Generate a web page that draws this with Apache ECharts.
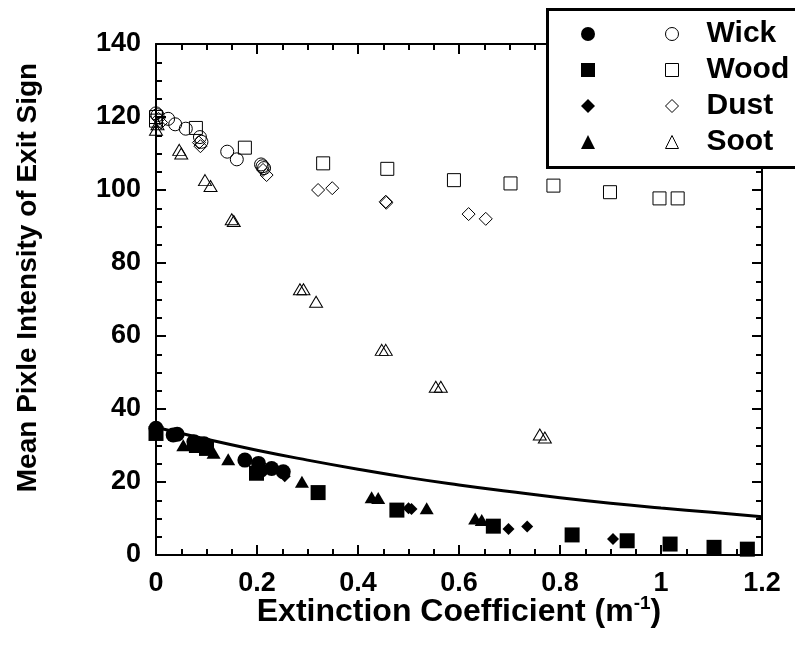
<!DOCTYPE html>
<html>
<head>
<meta charset="utf-8">
<script src="https://cdn.jsdelivr.net/npm/echarts@6/dist/echarts.min.js"></script>
<style>
  html, body { margin: 0; padding: 0; background: #fff; }
  #main { width: 795px; height: 646px; }
</style>
</head>
<body>
<div id="main"></div>
<script>
// open symbols (upper group)
var wickOpen = [[0, 121], [0.003, 120.5], [0.024, 119.5], [0.038, 118], [0.059, 116.8], [0.087, 114.5], [0.09, 113.2],
  [0.141, 110.5], [0.16, 108.4], [0.208, 107], [0.211, 106.5], [0.214, 106]];
var woodOpen = [[0, 120], [0, 119], [0.079, 117], [0.176, 111.6], [0.331, 107.3], [0.458, 105.8], [0.59, 102.7],
  [0.702, 101.8], [0.787, 101.2], [0.899, 99.4], [0.997, 97.7], [1.033, 97.7]];
var dustOpen = [[0.005, 119.5], [0.01, 118.5], [0.085, 113], [0.088, 112], [0.212, 105.5], [0.219, 104.1], [0.321, 100],
  [0.349, 100.5], [0.455, 96.8], [0.456, 96.5], [0.619, 93.4], [0.653, 92.1]];
var sootOpen = [[0, 116.5], [0.003, 118], [0.046, 111], [0.05, 110], [0.097, 102.7], [0.108, 101.1], [0.15, 92], [0.154, 91.5],
  [0.285, 72.8], [0.292, 72.8], [0.317, 69.4], [0.447, 56.2], [0.455, 56.2], [0.554, 46.1], [0.564, 46.1], [0.76, 33], [0.77, 32.2]];

// filled symbols (lower group)
var wickFilled = [[0, 34.7], [0.034, 32.9], [0.042, 33.1], [0.075, 31], [0.095, 30.5], [0.176, 26], [0.203, 25.1], [0.229, 23.7], [0.252, 22.8]];
var woodFilled = [[0, 33.3], [0.08, 30], [0.1, 29.2], [0.199, 22.4], [0.321, 17.1], [0.477, 12.3], [0.668, 7.9], [0.824, 5.5],
  [0.933, 3.9], [1.018, 3.0], [1.105, 2.1], [1.171, 1.6]];
var dustFilled = [[0.215, 23], [0.255, 21.6], [0.5, 12.8], [0.506, 12.6], [0.698, 7.1], [0.735, 7.8], [0.905, 4.4]];
var sootFilled = [[0.054, 30.1], [0.07, 30.5], [0.114, 28], [0.143, 26.2], [0.289, 20.1], [0.427, 15.8], [0.44, 15.6],
  [0.536, 12.8], [0.632, 10], [0.645, 9.6]];

// solid reference curve
var curveX = [0, 0.1, 0.2, 0.3, 0.4, 0.5, 0.6, 0.7, 0.8, 0.9, 1.0, 1.1, 1.2];
var curveY = [35, 31.7, 28.7, 26, 23.5, 21.2, 19.2, 17.4, 15.7, 14.2, 12.9, 11.7, 10.5];

var names = ['Wick', 'Wood', 'Dust', 'Soot'];
var symbols = ['circle', 'rect', 'diamond', 'triangle'];
var filledSets = [wickFilled, woodFilled, dustFilled, sootFilled];
var openSets = [wickOpen, woodOpen, dustOpen, sootOpen];
var filledSizes = [15, 15, 12, [14, 12]];
var openSizes = [13, 13, 13, [13, 11]];

var font = 'Liberation Sans, Arial, sans-serif';
var chart = echarts.init(document.getElementById('main'));

var series = [];
filledSets.forEach(function (d, i) {
  series.push({
    name: names[i] + ' ', type: 'scatter', data: d, symbol: symbols[i], symbolSize: filledSizes[i],
    itemStyle: { color: '#000', opacity: 1 }, z: 3
  });
});
openSets.forEach(function (d, i) {
  series.push({
    name: names[i], type: 'scatter', data: d, symbol: symbols[i], symbolSize: openSizes[i],
    itemStyle: { color: 'rgba(0,0,0,0)', borderColor: '#000', borderWidth: 1, opacity: 1 }, z: 3
  });
});
series.push({
  type: 'line', data: curveX.map(function (x, i) { return [x, curveY[i]]; }),
  smooth: true, symbol: 'none', lineStyle: { color: '#000', width: 3 }, z: 2, silent: true
});

function tickStyle(show) {
  return {
    axisLine: { show: true, onZero: false, lineStyle: { color: '#000', width: 2 } },
    axisTick: { show: true, inside: true, length: 10, lineStyle: { color: '#000', width: 2 } },
    minorTick: { show: true, splitNumber: 4, length: 6, lineStyle: { color: '#000', width: 2 } },
    splitLine: { show: false },
    axisLabel: show ? { show: true, fontFamily: font, fontWeight: 'bold', fontSize: 27, color: '#000', margin: 15 } : { show: false }
  };
}

var option = {
  backgroundColor: '#fff',
  animation: false,
  grid: { left: 156, right: 33, top: 44, bottom: 91 },
  xAxis: [
    Object.assign({
      type: 'value', min: 0, max: 1.2, interval: 0.2, position: 'bottom',
      name: 'Extinction Coefficient (m{sup|-1})', nameLocation: 'middle', nameGap: 39, nameMoveOverlap: false,
      nameTextStyle: {
        fontFamily: font, fontWeight: 'bold', fontSize: 32, color: '#000',
        rich: { sup: { fontFamily: font, fontWeight: 'bold', fontSize: 19, color: '#000', padding: [0, 0, 17, 0] } }
      }
    }, tickStyle(true)),
    Object.assign({ type: 'value', min: 0, max: 1.2, interval: 0.2, position: 'top' }, tickStyle(false))
  ],
  yAxis: [
    Object.assign({
      type: 'value', min: 0, max: 140, interval: 20, position: 'left',
      name: 'Mean Pixle Intensity of Exit Sign', nameLocation: 'middle', nameGap: 114,
      nameTextStyle: { fontFamily: font, fontWeight: 'bold', fontSize: 28, color: '#000', padding: [0, 0, 0, 44] }
    }, tickStyle(true)),
    Object.assign({ type: 'value', min: 0, max: 140, interval: 20, position: 'right' }, tickStyle(false))
  ],
  graphic: [{
    type: 'rect', left: 546, top: 8, z: 10,
    shape: { width: 300, height: 158 },
    style: { fill: '#fff', stroke: '#000', lineWidth: 3 }
  }],
  legend: [{
    orient: 'vertical', left: 576, top: 11, z: 20, selectedMode: false,
    itemWidth: 14, itemHeight: 14, itemGap: 0,
    data: names.map(function (n) { return n + ' '; }),
    formatter: function () { return ' '; },
    textStyle: { fontFamily: font, fontWeight: 'bold', fontSize: 30, lineHeight: 36, color: '#000' }
  }, {
    orient: 'vertical', left: 660, top: 11, z: 20, selectedMode: false,
    itemWidth: 13, itemHeight: 13, itemGap: 0, itemStyle: { borderWidth: 1 },
    data: names,
    textStyle: { fontFamily: font, fontWeight: 'bold', fontSize: 30, lineHeight: 36, color: '#000', padding: [0, 0, 0, 23] }
  }],
  series: series
};
chart.setOption(option);
window.addEventListener('resize', function () {
  chart.resize();
});
</script>
</body>
</html>
